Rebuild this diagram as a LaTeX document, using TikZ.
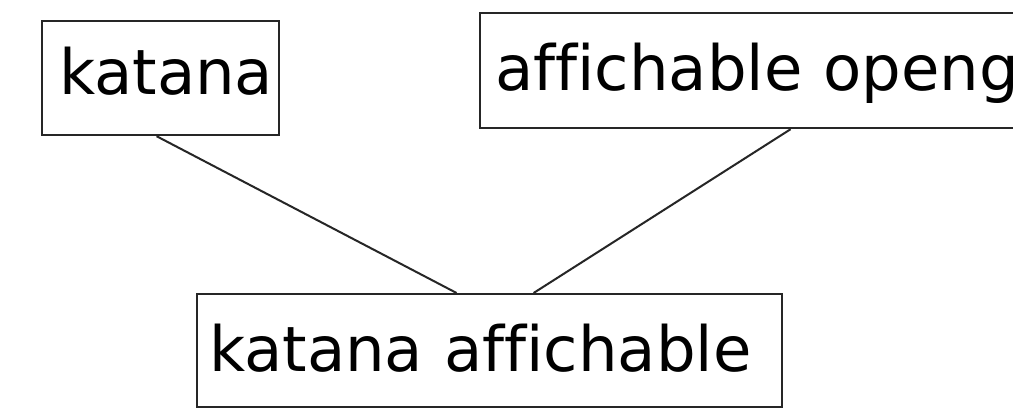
\documentclass[tikz,border=0pt]{standalone}
\usepackage{fontspec}
\setmainfont[Ligatures=NoCommon]{DejaVu Sans}
\begin{document}
\begin{tikzpicture}[x=1pt,y=-1pt,
  box/.style={draw=black!85, line width=2.2pt, anchor=north west, inner ysep=0pt, align=left,
    font=\fontsize{62.5}{75}\selectfont},
  link/.style={draw=black!85, line width=2pt}]
\useasboundingbox (0,0) rectangle (1013,408);
\clip (0,0) rectangle (1013,408);
\fill[white] (0,0) rectangle (1013,408);
\node[box, inner xsep=17pt, text width=203pt, text height=73pt, text depth=41pt] (k) at (41,20) {katana};
\node[box, inner xsep=15pt, text width=551pt, text height=77pt, text depth=38pt] (o) at (479,12) {affichable opengl};
\node[box, inner xsep=12pt, text width=561pt, text height=77pt, text depth=36pt] (ka) at (196,293) {katana affichable};
\draw[link] ([xshift=-4pt]k.south) -- ([xshift=-33pt]ka.north);
\draw[link] ([xshift=20pt]o.south) -- ([xshift=44pt]ka.north);
\end{tikzpicture}
\end{document}
